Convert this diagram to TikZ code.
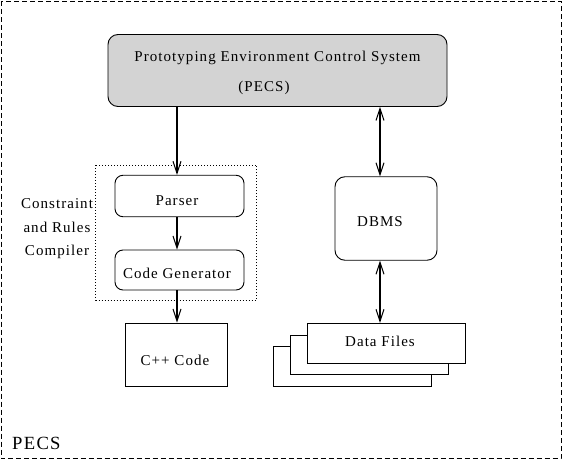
\documentclass[tikz,border=0pt]{standalone}
\usepackage{fontspec}
\setmainfont{Liberation Serif}[LetterSpace=7]
\usetikzlibrary{arrows.meta}
\definecolor{boxgray}{RGB}{211,211,211}
\tikzset{
  rbox/.style={draw, line width=0.9pt, rounded corners=9pt, inner sep=0pt},
  sbox/.style={draw, line width=0.9pt, fill=white, inner sep=0pt},
  txt/.style={anchor=base, inner sep=0pt, font=\fontsize{15}{18}\selectfont},
  arr/.style={line width=1.7pt, -{Straight Barb[length=12pt,width=8pt,line width=1pt]}},
  darr/.style={line width=1.7pt, {Straight Barb[length=12pt,width=8pt,line width=1pt]}-{Straight Barb[length=12pt,width=8pt,line width=1pt]}},
}
\begin{document}
\begin{tikzpicture}[x=1pt,y=-1pt]
\useasboundingbox (0,0) rectangle (563,460);
% outer dashed frame
\draw[line width=0.9pt, dash pattern=on 5pt off 3pt] (1.5,1.5) rectangle (561,458.5);
\node[anchor=base west, inner sep=0pt, font=\fontsize{18.6}{22}\selectfont] (pecslabel) at (12,449) {PECS};
% dotted compiler frame
\draw[line width=0.9pt, dash pattern=on 1pt off 2pt] (95.5,165) rectangle (256.5,300);
\node[txt] (crc1) at (57,208) {Constraint};
\node[txt] (crc2) at (57,232) {and Rules};
\node[txt] (crc3) at (57,255) {Compiler};
% main box
\node[rbox, fill=boxgray, rounded corners=10pt, minimum width=339pt, minimum height=72pt] (pecs) at (277.5,70.5) {};
\node[txt] at (277.5,62) {Prototyping Environment Control System};
\node[txt] at (264,92) {(PECS)};
% parser, code generator
\node[rbox, rounded corners=8pt, minimum width=129pt, minimum height=41.5pt] (parser) at (179.5,196) {};
\node[txt] at (177,205) {Parser};
\node[rbox, rounded corners=8pt, minimum width=129pt, minimum height=40pt] (codegen) at (179.5,270) {};
\node[txt] at (177,278) {Code Generator};
% C++ code
\node[sbox, minimum width=102pt, minimum height=63pt] (cpp) at (176,354.5) {};
\node[txt] at (175,365) {C++ Code};
% DBMS
\node[rbox, rounded corners=10pt, minimum width=102pt, minimum height=83.5pt] (dbms) at (386,218.5) {};
\node[txt] at (380,226.5) {DBMS};
% data files stack
\node[sbox, minimum width=158.5pt, minimum height=40pt] (df3) at (352.5,366.7) {};
\node[sbox, minimum width=157.5pt, minimum height=39pt] (df2) at (369.5,354.5) {};
\node[sbox, minimum width=157.5pt, minimum height=40pt] (df1) at (386.5,343.3) {};
\node[txt] at (380,346.7) {Data Files};
% connectors
\coordinate (lx) at (177,0);
\coordinate (rx) at (380,0);
\draw[arr] (pecs.south -| lx) -- (parser.north -| lx);
\draw[arr] (parser.south -| lx) -- (codegen.north -| lx);
\draw[arr] (codegen.south -| lx) -- (cpp.north -| lx);
\draw[darr] (pecs.south -| rx) -- (dbms.north -| rx);
\draw[darr] (dbms.south -| rx) -- (df1.north -| rx);
\end{tikzpicture}
\end{document}
